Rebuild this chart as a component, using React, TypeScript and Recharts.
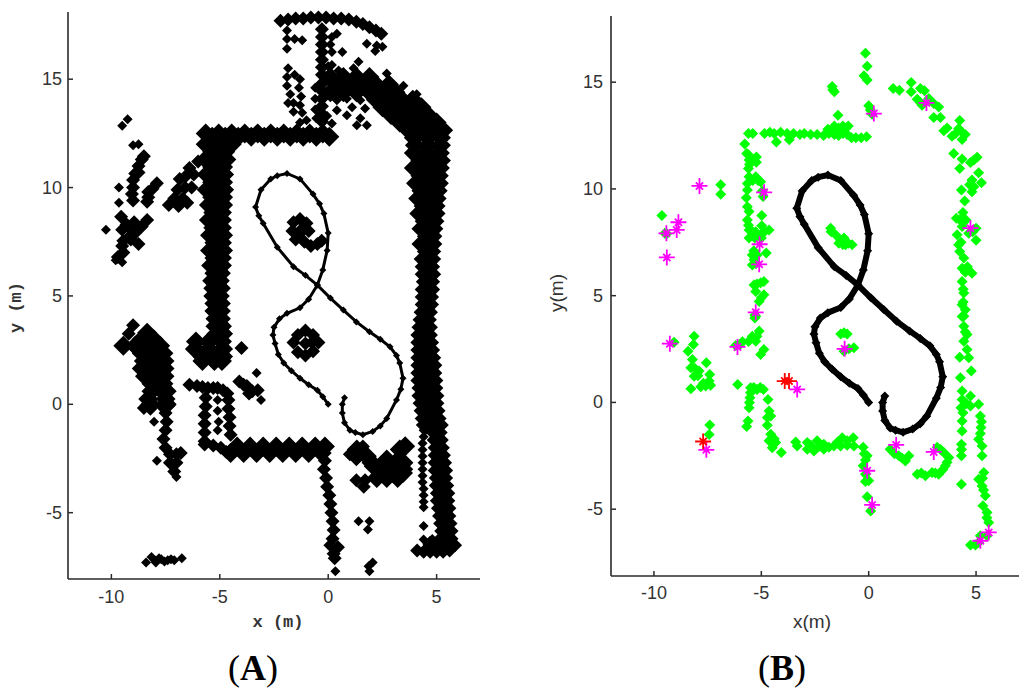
import React from 'react';
import { ScatterChart, Scatter, XAxis, YAxis } from 'recharts';

type Pair = [number, number];

// Tick labels
const xTicks = [-10, -5, 0, 5];
const yTicks = [-5, 0, 5, 10, 15];

// Vehicle trajectory (shared figure-of-eight)
const trajectory: Pair[] = [
  [0, 0], [-0.25, 0.35], [-0.5, 0.65], [-0.9, 0.9], [-1.3, 1.2], [-1.7, 1.55], [-2.05, 1.9], [-2.3, 2.3], [-2.45, 2.8], [-2.55, 3.2], [-2.5, 3.55], [-2.25, 3.95], [-1.9, 4.2], [-1.3, 4.45], [-0.9, 4.85], [-0.5, 5.5], [-0.25, 6.2], [-0.05, 7.1], [0, 7.9], [-0.2, 8.8], [-0.4, 9.25], [-0.7, 9.7], [-1.3, 10.4], [-1.9, 10.65], [-2.35, 10.55], [-2.65, 10.4], [-3.1, 9.9], [-3.35, 9.1], [-3.2, 8.7], [-3, 8.35], [-2.35, 7.25], [-1.6, 6.35], [-1.05, 5.95], [-0.5, 5.5], [0.1, 4.9], [0.7, 4.35], [1.3, 3.8], [1.9, 3.35], [2.4, 3], [2.85, 2.65], [3.15, 2.25], [3.3, 1.9], [3.45, 1.2], [3.35, 0.7], [3.15, 0.2], [2.7, -0.65], [2.4, -1], [2.05, -1.25], [1.6, -1.4], [1.25, -1.3], [1, -1.2], [0.75, -0.85], [0.65, -0.4], [0.65, 0], [0.75, 0.3],
];

// Panel A: heavy map walls, as rows of [y, x, x, ...]
const aRightWallRows: number[][] = [
  [15.1, 0.1, 0.7, 1.3, 1.9], [14.75, 0.4, 1.0, 1.6, 2.2, 2.8], [14.4, 0.1, 0.7, 1.3, 1.9, 2.5, 3.1], [14.05, 2.2, 2.8, 3.4, 3.9], [13.7, 2.5, 3.1, 3.7, 4.3], [13.35, 2.9, 3.5, 4.1, 4.6], [13, 3.3, 3.9, 4.5, 5], [12.65, 3.7, 4.3, 4.9, 5.3], [12.3, 3.95, 4.6, 5.2], [11.95, 4, 4.6, 5.2], [11.6, 3.95, 4.55, 5.15], [11.25, 4.25, 4.85, 5.2], [10.9, 3.95, 4.55, 5.15], [10.55, 4.25, 4.85, 5.1], [10.2, 4.05, 4.6, 5.1], [9.85, 4.3, 4.85, 5.05], [9.5, 4.15, 4.7, 5], [9.15, 4.4, 4.95], [8.8, 4.2, 4.7, 4.95], [8.45, 4.45, 4.9], [8.1, 4.3, 4.85], [7.75, 4.55, 4.8], [7.4, 4.3, 4.8], [7.05, 4.55, 4.75], [6.7, 4.4, 4.75], [6.35, 4.45, 4.7], [6, 4.45, 4.75], [5.65, 4.5, 4.7], [5.3, 4.45, 4.7], [4.95, 4.45, 4.65], [4.6, 4.45, 4.65], [4.25, 4.4, 4.6], [3.9, 4.35, 4.55], [3.55, 4.3, 4.6], [3.2, 4.25, 4.6], [2.85, 4.25, 4.65], [2.5, 4.25, 4.7], [2.15, 4.25, 4.75], [1.8, 4.25, 4.8], [1.45, 4.25, 4.8], [1.1, 4.25, 4.85], [0.75, 4.3, 4.85], [0.4, 4.3, 4.9], [0.05, 4.35, 4.9], [-0.3, 4.4, 4.95], [-0.65, 4.45, 5], [-0.95, 4.5, 5.1], [-1.3, 4.95, 5.05], [-1.65, 5, 5.1], [-2, 5.05, 5.15], [-2.35, 5.05, 5.2], [-2.7, 5.05, 5.25], [-3.05, 5.05, 5.3], [-3.4, 5.1, 5.3], [-3.75, 5.1, 5.35], [-4.1, 5.15, 5.4], [-4.45, 5.15, 5.4], [-4.8, 5.2, 5.45], [-5.15, 5.25, 5.45], [-5.5, 5.3, 5.5], [-5.85, 5.35, 5.55], [-6.2, 5.3, 5.55], [-6.45, 4.8, 5.2, 5.55],
];
const aLeftWallRows: number[][] = [
  [12.5, -5.65, -5.05, -4.45, -3.85, -3.25, -2.65, -2.05, -1.45, -0.85, -0.25], [12.35, -5.35, -4.75, -4.15, -3.55, -2.95, -2.35, -1.75, -1.15, -0.55, 0.05], [12, -5.65, -5.05, -4.45], [11.65, -5.35, -4.75], [11.3, -5.65, -5.05, -4.7], [10.95, -5.35, -4.85], [10.6, -5.6, -5.05, -4.8], [10.25, -5.35, -4.85], [9.9, -5.6, -5.05, -4.8], [9.55, -5.35, -4.85], [9.2, -5.5, -5.05, -4.85], [8.85, -5.3, -4.9], [8.5, -5.5, -5.05, -4.9], [8.15, -5.3, -4.9], [7.8, -5.45, -5, -4.85], [7.45, -5.25, -4.9], [7.1, -5.45, -5, -4.85], [6.75, -5.25, -4.9], [6.4, -5.4, -5, -4.9], [6.05, -5.25, -4.95], [5.7, -5.35, -5], [5.35, -5.3, -4.95], [5, -5.3, -5], [4.65, -5.25, -4.95], [4.3, -5.25, -4.95], [3.95, -5.2, -4.95], [3.6, -5.2, -4.9], [3.25, -5.15, -4.85], [2.9, -6.1, -5.5, -4.9], [2.55, -6.15, -5.5, -4.85], [2.2, -5.8, -5.25, -4.85], [2, -5.8, -5.25, -4.9],
];
const aBlobRows: number[][] = [
  [3.3, -8.35], [3, -8.6, -8.05], [2.7, -9.45, -8.9, -8.35, -7.75], [2.35, -8.6, -8.05, -7.6], [2, -8.5, -8, -7.55], [1.65, -8.6, -8.1, -7.55], [1.3, -8.45, -8, -7.55], [0.95, -8.15, -7.6], [0.6, -8.15, -7.65, -7.45], [0.25, -8.3, -7.5], [0, -8.2, -7.45],
  [-1.95, -4.2, -3.6, -3, -2.4, -1.8, -1.2, -0.6, -0.15], [-2.25, -4.5, -3.9, -3.3, -2.7, -2.1, -1.5, -0.9, -0.3],
  [-2.09, 1.32, 3.3], [-1.94, 3.55], [-2.4, 1.78, 1.3], [-2.55, 2.7], [-2.7, 3.47, 2.0, 3.1], [-2.86, 2.1], [-3.17, 2.95, 2.5, 3.45], [-3.4, 2.24, 2.7, 3.2],
];

// Panel A: lighter scans
const aMedium: Pair[] = [
  [-2.2, 17.7], [-1.85, 17.75], [-1.5, 17.8], [-1.15, 17.8], [-0.8, 17.85], [-0.45, 17.85], [-0.1, 17.85], [0.25, 17.8], [0.6, 17.8], [0.95, 17.75], [1.3, 17.65], [1.6, 17.55], [1.9, 17.4], [2.2, 17.25], [2.45, 17.1],
  [-0.29, 17.3], [-0.29, 16.95], [-0.29, 16.6], [-0.29, 16.25], [-0.29, 15.9], [-0.29, 15.55], [-0.29, 15.2], [-0.29, 14.8], [-0.29, 14.45], [-0.29, 14.1], [-0.29, 13.75], [-0.29, 13.4], [-0.29, 13.05],
  [-6, 11.2], [-6.4, 10.9], [-6.6, 10.5], [-6.85, 10.4], [-6.6, 10], [-6.95, 9.9], [-7.1, 9.5], [-6.7, 9.5], [-7.35, 9.2], [-6.9, 9.15], [-6.5, 9.3], [-6.3, 10], [-6.2, 10.6], [-7, 9.3],
  [-6.4, 0.9], [-6.05, 0.85], [-5.8, 0.8], [-5.55, 0.75], [-5.3, 0.75], [-5.1, 0.75], [-4.85, 0.65], [-4.65, 0.5], [-5.65, 0.3], [-5.65, -0.1], [-5.7, -0.5], [-5.7, -0.9], [-5.7, -1.3], [-5.7, -1.7], [-4.6, 0.2], [-4.6, -0.2], [-4.55, -0.6], [-4.55, -1], [-4.5, -1.4], [-5.7, -1.85], [-5.3, -1.9], [-4.95, -2], [-4.7, -2.2],
  [-0.15, -2.6], [-0.2, -3], [-0.1, -3.4], [-0.05, -3.8], [0.05, -4.2], [0.1, -4.6], [0.15, -5], [0.2, -5.4], [0.25, -5.8], [0.2, -6.2], [0.1, -6.5], [0.45, -6.6], [0.25, -6.9], [0.3, -7.1],
  [4.1, -6.75], [4.4, -6.8], [4.7, -6.8], [5, -6.8], [5.3, -6.8], [5.6, -6.75], [5.85, -6.5],
  [1.64, -3.8], [1.7, -3.5], [1.3, -3.5], [1, -2.3], [1.6, -1.95], [2.3, -2.9], [2.7, -3.1], [3.3, -3.2], [3.6, -3],
  [-4, 2.6], [-4.1, 1.05], [-3.75, 0.85], [-3.5, 0.6], [-3.65, 0.5], [-3.25, 0.65], [-3.9, 0.9],
  [-8.5, -0.17], [-8.2, -0.2], [-7.7, -0.05], [-7.35, -0.05], [-7.5, -0.4], [-7.45, -0.8], [-7.5, -1.2], [-7.6, -1.6], [-7.5, -2], [-7.3, -2.3], [-7, -2.3], [-6.8, -2.25], [-7.3, -2.7], [-7, -2.7], [-7.1, -3.1], [-9, 3.65], [-9.2, 3.25],
  [-1.6, 8.4], [-1.3, 8.55], [-1, 8.35], [-1.65, 8], [-0.9, 8], [-1.5, 7.6], [-1.1, 7.5], [-0.8, 7.3], [-0.5, 7.4], [-1.3, 7.9], [-0.3, 7.55], [-1.2, 8.1],
  [-1.05, 3.4], [-0.7, 3.2], [-0.45, 2.85], [-0.7, 2.45], [-1.05, 2.25], [-1.4, 2.4], [-1.6, 2.85], [-1.4, 3.2], [-1.05, 2.8], [-0.75, 2.85],
  [-8.5, 11.45], [-8.6, 11.3], [-8.75, 11], [-8.75, 10.7], [-8.9, 10.65], [-9, 10.35], [-9, 10], [-9.05, 9.7], [-9, 9.4], [-7.9, 10.2], [-8.1, 9.95], [-8.3, 9.8], [-8.3, 9.55], [-8.35, 9.35], [-9.55, 8.65], [-8.35, 8.5], [-8.6, 8.2], [-8.95, 8.4], [-9.5, 8.05], [-8.9, 7.9], [-9.45, 7.55], [-8.75, 7.4], [-9.45, 7], [-9.2, 8.2], [-9.2, 7.7], [-9.3, 8.3], [-9.1, 7.6], [-9.5, 7.3], [-9.7, 6.8],
];
const aSmall: Pair[] = [
  [-9.5, 12.85], [-9.25, 13.15], [-8.75, 12], [-9, 11.95], [-9.65, 10], [-9.65, 9.3], [-10.25, 8.05], [-9.8, 6.65], [-9.5, 6.55],
  [-1.9, 17.25], [-1.9, 16.85], [-1.55, 16.85], [-1.2, 16.8], [-1.9, 16.4], [-1.85, 15.5], [-1.9, 15.1], [-1.55, 15.2], [-1.3, 15], [-1.9, 14.7], [-1.35, 14.6], [-1.75, 14.3], [-1.25, 14.2], [-1.85, 13.9], [-1.6, 13.9], [-1.3, 13.8], [-1.6, 13.5], [-1.2, 13.45], [-1, 13.1], [-1.3, 13], [-0.55, 13.2], [-0.6, 13.6], [-0.6, 14.1], [-0.6, 14.6],
  [0.4, 17.1], [0.17, 16.95], [0.1, 16.6], [0.65, 16.26], [0.17, 16.26], [0.17, 15.65], [0.48, 15.4], [1.4, 15.8], [1.17, 15.5], [0, 15.6], [2.24, 16.56], [1.78, 16.64], [2.17, 16.3], [2.5, 16.5], [2.7, 15.26], [3.47, 14.7], [4.08, 14.3],
  [0.4, 14.03], [0.86, 14.1], [1.48, 14.03], [1.7, 13.65], [0.4, 13.57], [1.1, 13.7], [0.86, 13.34], [-0.05, 13.3], [0.17, 12.95], [1.32, 12.88], [1.78, 12.88], [1.48, 13.2],
  [-3.3, 1.45], [-3.1, 0.2], [-8.03, -0.8], [-7.9, -2.6], [-7, -3.35],
  [4.4, -0.9], [4.4, -1.2], [4.4, -1.5], [4.35, -1.8], [4.35, -2.1], [4.35, -2.4], [4.35, -2.7], [4.35, -3], [4.35, -3.3], [4.35, -3.6], [4.4, -3.9], [4.4, -4.2], [4.4, -4.5], [4.4, -4.75],
  [1.4, -5.39], [1.9, -5.39], [1.83, -5.78], [2.05, -7.3], [1.86, -7.47], [1.9, -7.7], [0.33, -7.7], [4.4, -5.62], [4.4, -6.24], [4.7, -6.3],
  [-8.4, -7.3], [-8.15, -7.05], [-7.95, -7.3], [-8, -7.2], [-7.8, -7.1], [-7.7, -7.15], [-7.55, -7.25], [-7.4, -7.2], [-7.25, -7.15], [-7.1, -7.2], [-6.75, -7.1],
  [-5.1, 0.2], [-5.1, -0.3], [-5.05, -0.8], [-5.1, -1.2],
];

// Panel B: laser map points
const bGreen: Pair[] = [
  [-0.15, 16.35], [-0.07, 15.75], [-0.22, 15.3], [-0.07, 15.1], [-1.67, 14.65], [-1.7, 14.8], [-1.6, 14.55], [0, 13.9], [0.08, 13.7], [0.16, 13.5], [-1.43, 13.45],
  [-5.6, 12.6], [-5.4, 12.6], [-4.85, 12.6], [-4.6, 12.65], [-4.4, 12.6], [-4.1, 12.65], [-3.8, 12.6], [-3.5, 12.6], [-3.2, 12.55], [-3, 12.6], [-2.7, 12.55], [-2.4, 12.55], [-2.1, 12.5], [-1.85, 12.6], [-1.6, 12.55], [-1.4, 12.5], [-1.2, 12.6], [-1, 12.55], [-0.8, 12.4], [-0.6, 12.4], [-0.35, 12.4], [-0.1, 12.45], [-1.9, 12.8], [-1.6, 12.95], [-1.4, 12.85], [-1.6, 12.75], [-1.2, 12.95], [-1.05, 12.85], [-0.95, 12.95], [-4.3, 12.2], [-3.7, 12.3],
  [-5.77, 12.1], [-5.68, 11.66], [-5.57, 11.35], [-5.6, 11.6], [-5.23, 11.5], [-5.23, 11.25], [-5.6, 10.96], [-5.55, 11.15], [-5.57, 10.57], [-5.26, 10.57], [-5.65, 10.26], [-5.03, 10.34], [-5.4, 10.4], [-5.15, 10.4], [-5.65, 9.95], [-4.92, 9.64], [-4.95, 9.9], [-5.7, 9.59], [-5.65, 9.17], [-5.57, 8.94], [-5.65, 8.55], [-5.6, 8.3], [-4.98, 8.75], [-4.98, 8.28], [-5.57, 8.08], [-5.4, 8], [-5.26, 8], [-5.03, 7.85], [-4.64, 8.08], [-4.85, 8], [-5.57, 7.7], [-5, 7.7], [-5.3, 7.7], [-4.77, 7], [-5.42, 6.9], [-5.34, 6.68], [-5.2, 6.9], [-5.42, 6.44], [-5.25, 6.5], [-5.35, 7.1], [-4.88, 5.67], [-5.34, 5.5], [-5.03, 5.6], [-5.2, 5.55], [-5.26, 5.2], [-4.88, 5.04], [-5.1, 4.73], [-5, 4.9], [-5.3, 4.1], [-5.3, 3.95],
  [-9.63, 8.75], [-9.49, 7.92], [-9.4, 7.9], [-6.89, 10.2], [-6.89, 9.75],
  [1.14, 14.7], [1.43, 14.62], [1.98, 14.98], [1.98, 14.55], [2.41, 14.7], [2.6, 14.6], [2.26, 14.2], [2.4, 14.05], [2.49, 13.92], [2.8, 14.23], [3.03, 14], [3.26, 13.84], [3.03, 13.35], [3.34, 13.35], [3.5, 12.72], [3.65, 12.85], [3.88, 12.47], [4.05, 12.6], [4.24, 13.2], [4.19, 12.83], [4.35, 12.32], [4.3, 12.7], [4.5, 12.55], [3.96, 11.66], [4.35, 11.4], [4.74, 11.24], [5.05, 11.48], [4.9, 11.35], [4.24, 10.96], [5.12, 10.76], [4.81, 10.42], [4.7, 10.2], [5.25, 10.29], [4.32, 9.95], [4.81, 9.87], [4.9, 10.1], [4.47, 9.44], [4.39, 8.9], [4.08, 8.63], [4.25, 8.55], [4.53, 8.55], [4.35, 8.24], [5, 8.16], [4.85, 8], [4.66, 7.92], [5, 7.6], [4.12, 7.85], [4.19, 7.38], [4.3, 7.5], [4.24, 7.07], [4.43, 6.76], [4.35, 6.29], [4.6, 6.35], [4.81, 6.05], [4.5, 6.1], [4.65, 6.2], [4.35, 5.67], [4.43, 5.12], [4.35, 4.57], [4.5, 4.34], [4.35, 4.03], [4.4, 4.7], [4.4, 5.3],
  [-1.77, 8.16], [-1.75, 8], [-1.54, 7.85], [-1.15, 7.7], [-1.08, 7.38], [-1.39, 7.46], [-1.3, 7.6], [-0.77, 7.38], [-0.95, 7.45], [-1.2, 7.4],
  [-9.06, 2.82], [-8.13, 3.1], [-8.16, 2.71], [-8.41, 2.4], [-8.21, 2.01], [-7.56, 1.86], [-8.28, 1.62], [-7.9, 1.47], [-8.13, 1.23], [-8.1, 1.6], [-7.95, 1.25], [-7.4, 1.31], [-8.28, 0.64], [-7.82, 0.74], [-7.59, 0.77], [-7.7, 0.9], [-7.36, 0.8], [-7.43, 1], [-7.4, -1.06], [-7.43, -1.5],
  [-6.1, 0.84], [-6.19, 2.67], [-6, 2.7], [-5.88, 2.84], [-5.6, 2.85], [-5.42, 3.1], [-5.1, 3.34], [-5.26, 2.87], [-5.2, 3.1], [-5.26, 4.04], [-4.88, 2.48], [-5.03, 2.25],
  [-5.5, 0.69], [-5.2, 0.61], [-5.35, 0.7], [-4.9, 0.61], [-5.05, 0.7], [-5.53, 0.22], [-5.5, 0.45], [-5.57, -0.25], [-5.55, 0], [-5.62, -0.87], [-5.68, -1.13], [-4.69, 0.14], [-4.64, -0.4], [-4.72, -0.71], [-4.56, -0.64], [-4.72, -1.07], [-4.56, -1.49], [-4.64, -1.8], [-4.33, -1.88], [-4.49, -2.12], [-4.4, -1.7], [-4.07, -2.35], [-3.4, -1.85], [-3.33, -2.04],
  [-2.86, -1.88], [-2.86, -2.19], [-2.7, -2], [-2.4, -1.8], [-2.55, -2.27], [-2.3, -2.05], [-2.09, -1.96], [-2.09, -2.19], [-1.85, -2.1], [-1.62, -2.04], [-1.23, -1.65], [-1.31, -2.04], [-1.45, -1.85], [-1, -1.8], [-1, -2], [-0.72, -1.65], [-0.69, -2.04],
  [-0.26, -2.1], [-0.07, -2.5], [-0.2, -2.4], [-0.15, -2.7], [-0.26, -2.97], [-0.15, -3.36], [0, -3.67], [-0.15, -3.7], [-0.07, -4.42], [0.09, -5.08],
  [1, -2.19], [1.2, -2.4], [1.4, -2.5], [1.55, -2.6], [1.71, -2.74], [1.87, -2.5], [2.26, -3.36], [2.45, -3.3], [2.64, -3.44], [2.95, -3.28], [3.1, -3.3], [3.26, -3.36], [3.45, -3.15], [3.57, -2.97], [3.73, -2.58], [3.65, -2.8], [3.5, -2.35], [3.35, -2.2], [3.19, -2.1],
  [4.43, 4.04], [4.43, 3.57], [4.58, 3.18], [4.43, 2.87], [4.58, 2.48], [4.5, 3.3], [4.24, 2.12], [4.66, 2.09], [4.78, 1.47], [4.27, 1.16], [4.35, 0.53], [4.35, 0.14], [4.3, -0.25], [4.39, -0.48], [4.35, -0.87], [4.35, -1.34], [4.32, -1.96], [4.32, -2.5], [4.32, -2.2], [4.32, -3.83], [4.74, 0.3], [4.74, -0.17], [4.55, -0.05], [5.12, -0.09],
  [5.2, -0.63], [5.23, -1.18], [5.25, -0.9], [5.12, -1.73], [5.2, -1.45], [5.28, -2.04], [5.28, -2.5], [5.36, -3.28], [5.12, -3.6], [5.28, -3.91], [5.3, -3.55], [5.43, -4.37], [5.35, -4.1], [5.32, -4.84], [5.51, -5.15], [5.59, -5.62], [5.5, -5.4], [5.51, -6.24], [5.2, -6.24], [4.74, -6.68], [4.97, -6.68], [5.12, -6.56],
  [-1.15, 3.26], [-1, 3.2], [-1.3, 3.2], [-0.92, 2.51], [-1.15, 2.4], [-0.69, 2.56],
];
const bMagenta: Pair[] = [
  [-7.88, 10.14], [-8.86, 8.44], [-8.94, 8.08], [-9.42, 7.92], [-9.4, 6.79], [-4.87, 9.84], [-5.08, 7.41], [-5.1, 6.47], [-5.26, 4.22], [0.24, 13.53], [2.69, 14.03], [4.74, 8.16],
  [-9.26, 2.75], [-6.11, 2.6], [-3.33, 0.61], [1.28, -1.99], [3.03, -2.32], [-1.12, 2.51], [-0.07, -3.2], [0.16, -4.8], [5.2, -6.48], [5.59, -6.09], [-7.56, -2.22],
];
const bRed: Pair[] = [[-3.91, 1], [-3.71, 1], [-7.71, -1.83]];

const fromPairs = (list: Pair[]) => list.map(([x, y]) => ({ x, y }));
const fromRows = (rows: number[][]) => rows.flatMap(([y, ...xs]) => xs.map((x) => ({ x, y })));

const diamond = (r: number, fill: string) => (p: any) => (
  <path d={`M${p.cx - r},${p.cy}L${p.cx},${p.cy - r}L${p.cx + r},${p.cy}L${p.cx},${p.cy + r}Z`} fill={fill} />
);
const star = (r: number, color: string) => (p: any) => {
  const d = r * 0.45;
  return (
    <path
      d={`M${p.cx - r},${p.cy}H${p.cx + r}M${p.cx},${p.cy - r}V${p.cy + r}M${p.cx - d},${p.cy - d}L${p.cx + d},${p.cy + d}M${p.cx - d},${p.cy + d}L${p.cx + d},${p.cy - d}`}
      stroke={color}
      strokeWidth={1.8}
      fill="none"
    />
  );
};

const INK = '#2a2a2a';
const TICK_FONT = '"Liberation Sans", Arial, sans-serif';

const xTick = (axisY: number, labelOffset: number) => (p: any) => (
  <g>
    <line x1={p.payload.coordinate} x2={p.payload.coordinate} y1={axisY} y2={axisY - 5} stroke={INK} strokeWidth={1.5} />
    <text x={p.payload.coordinate} y={axisY + labelOffset} textAnchor="middle" fontFamily={TICK_FONT} fontSize={18} fill="#333">{p.payload.value}</text>
  </g>
);
const yTick = (axisX: number, labelGap: number) => (p: any) => (
  <g>
    <line x1={axisX} x2={axisX + 5} y1={p.payload.coordinate} y2={p.payload.coordinate} stroke={INK} strokeWidth={1.5} />
    <text x={axisX - labelGap} y={p.payload.coordinate + 6} textAnchor="end" fontFamily={TICK_FONT} fontSize={18} fill="#333">{p.payload.value}</text>
  </g>
);

const AXIS_H = 60;
const AXIS_W = 60;

const Panel = ({ left, width, plotLeft, plotRight, plotTop, plotBottom, yDomain, xLabel, yLabel, labelFont, labelSize, labelWeight, xLabelDx, yLabelDy, xLabelY, yLabelX, tickBelow, tickGap, children }: any) => (
  <div style={{ position: 'absolute', left, top: 0, width, height: 696 }}>
    <ScatterChart
      width={width}
      height={696}
      margin={{ top: plotTop, left: plotLeft - AXIS_W, right: width - plotRight, bottom: 696 - plotBottom - AXIS_H }}
    >
      <XAxis
        type="number"
        dataKey="x"
        domain={[-12, 7]}
        ticks={xTicks}
        height={AXIS_H}
        interval={0}
        tickLine={false}
        axisLine={{ stroke: INK, strokeWidth: 1.6 }}
        tick={xTick(plotBottom, tickBelow)}
        label={() => (
          <text x={(plotLeft + plotRight) / 2 + xLabelDx} y={xLabelY} textAnchor="middle" fontFamily={labelFont} fontWeight={labelWeight} fontSize={labelSize} fill="#333">{xLabel}</text>
        )}
      />
      <YAxis
        type="number"
        dataKey="y"
        domain={yDomain}
        ticks={yTicks}
        width={AXIS_W}
        interval={0}
        tickLine={false}
        axisLine={{ stroke: INK, strokeWidth: 1.6 }}
        tick={yTick(plotLeft, tickGap)}
        label={() => {
          const cy = (plotTop + plotBottom) / 2 + yLabelDy;
          return (
            <text x={yLabelX} y={cy} textAnchor="middle" transform={`rotate(-90 ${yLabelX} ${cy})`} fontFamily={labelFont} fontWeight={labelWeight} fontSize={labelSize} fill="#333">{yLabel}</text>
          );
        }}
      />
      {children}
    </ScatterChart>
  </div>
);

const PanelTag = ({ letter, center }: { letter: string; center: number }) => (
  <div style={{ position: 'absolute', left: center - 60, top: 648, width: 120, textAlign: 'center', fontFamily: '"Liberation Serif", serif', fontSize: 36, lineHeight: '40px', color: '#000' }}>
    (<b>{letter}</b>)
  </div>
);

export default function App() {
  return (
    <div style={{ position: 'absolute', left: 0, top: 0, width: 1024, height: 696, background: '#fff', overflow: 'hidden' }}>
      <Panel left={0} width={500} plotLeft={68} plotRight={480} plotTop={12} plotBottom={579} yDomain={[-8.06, 18.1]} xLabel="x (m)" yLabel="y (m)" labelFont='"Liberation Mono", monospace' labelWeight="bold" labelSize={17} xLabelDx={4} yLabelDy={12} xLabelY={627} yLabelX={21} tickBelow={24} tickGap={6}>
        <Scatter data={fromRows(aRightWallRows)} fill="#000" isAnimationActive={false} shape={diamond(10, '#000')} />
        <Scatter data={fromRows(aLeftWallRows)} fill="#000" isAnimationActive={false} shape={diamond(10, '#000')} />
        <Scatter data={fromRows(aBlobRows)} fill="#000" isAnimationActive={false} shape={diamond(10, '#000')} />
        <Scatter data={fromPairs(aMedium)} fill="#000" isAnimationActive={false} shape={diamond(7, '#000')} />
        <Scatter data={fromPairs(aSmall)} fill="#000" isAnimationActive={false} shape={diamond(5, '#000')} />
        <Scatter data={fromPairs(trajectory)} fill="#000" isAnimationActive={false} line={{ stroke: '#000', strokeWidth: 3 }} shape={diamond(3.5, '#000')} />
      </Panel>
      <Panel left={520} width={504} plotLeft={91} plotRight={499} plotTop={16} plotBottom={576} yDomain={[-8.13, 18.1]} xLabel="x(m)" yLabel="y(m)" labelFont={TICK_FONT} labelWeight="normal" labelSize={19} xLabelDx={-3} yLabelDy={-3} xLabelY={628} yLabelX={43} tickBelow={23} tickGap={8}>
        <Scatter data={fromPairs(bGreen)} fill="#00ff00" isAnimationActive={false} shape={diamond(5.5, '#00ff00')} />
        <Scatter data={fromPairs(trajectory)} fill="#000" isAnimationActive={false} line={{ stroke: '#000', strokeWidth: 6 }} shape={diamond(4.5, '#000')} />
        <Scatter data={fromPairs(bMagenta)} fill="#ff00ff" isAnimationActive={false} shape={star(8, '#ff00ff')} />
        <Scatter data={fromPairs(bRed)} fill="#ff0000" isAnimationActive={false} shape={star(8, '#ff0000')} />
      </Panel>
      <PanelTag letter="A" center={253} />
      <PanelTag letter="B" center={782} />
    </div>
  );
}
